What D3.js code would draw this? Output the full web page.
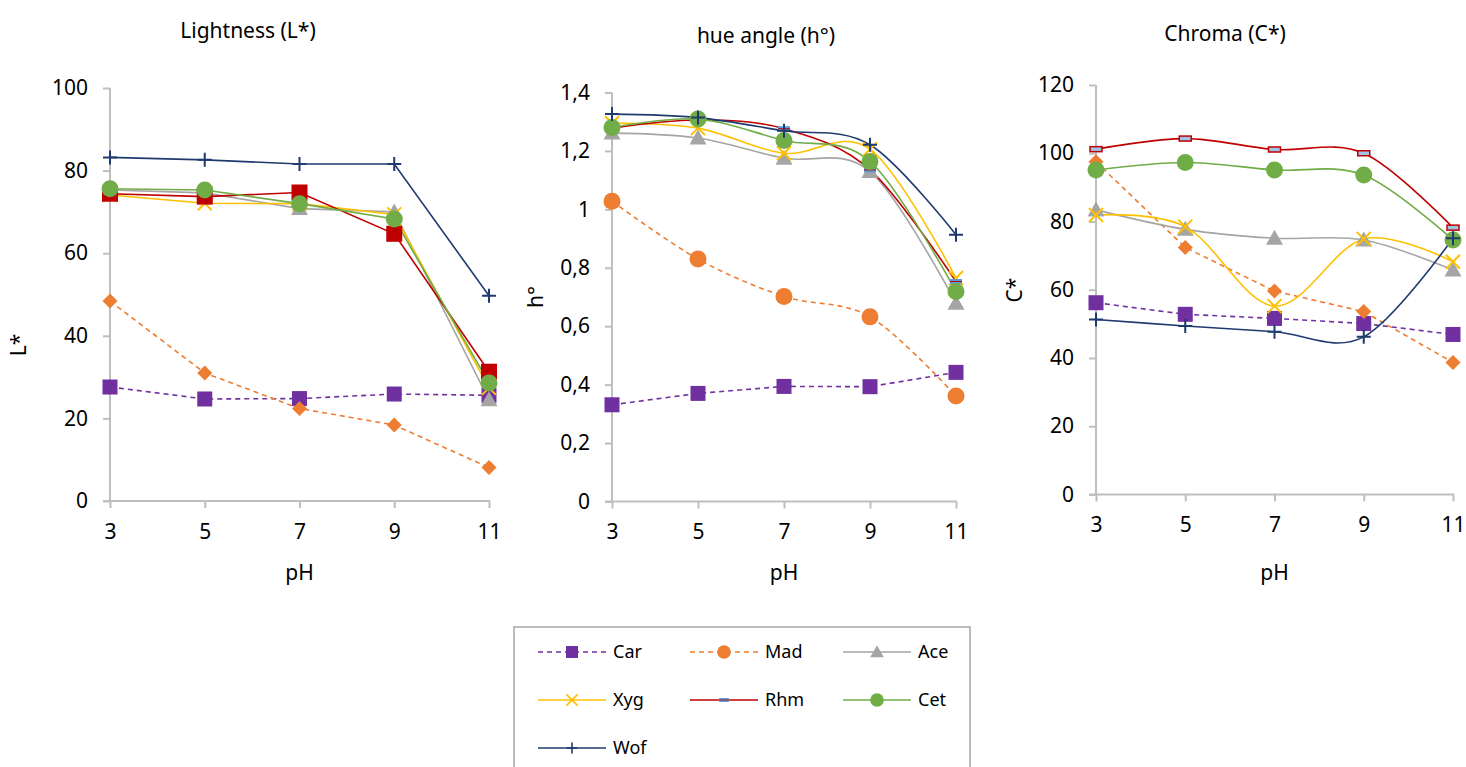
<!DOCTYPE html>
<meta charset="utf-8">
<title>Colour parameters vs pH</title>
<style>
  body { margin: 0; background: #fff; }
  text { font-family: "Noto Sans", "Open Sans", sans-serif; fill: #000; }
</style>
<body>
<script src="https://d3js.org/d3.v7.min.js"></script>
<script>

var width = 1466,
    height = 767;

// x values (pH) shared by all three charts
var phValues = [3, 5, 7, 9, 11];
var seriesNames = ["Car", "Mad", "Ace", "Xyg", "Rhm", "Cet", "Wof"];

// Lightness L*
var lightness = {
  Car: [27.6, 24.7, 24.8, 25.9, 25.6],
  Mad: [48.4, 31.0, 22.4, 18.4, 8.1],
  Ace: [75.3, 74.6, 70.8, 70.0, 24.5],
  Xyg: [74.1, 72.1, 72.0, 69.4, 27.4],
  Rhm: [74.4, 73.7, 74.7, 64.7, 31.3],
  Cet: [75.6, 75.3, 72.0, 68.3, 28.6],
  Wof: [83.2, 82.6, 81.6, 81.6, 49.7]
};

// hue angle h°
var hue = {
  Car: [0.331, 0.370, 0.394, 0.393, 0.442],
  Mad: [1.028, 0.830, 0.702, 0.632, 0.361],
  Ace: [1.261, 1.244, 1.175, 1.130, 0.679],
  Xyg: [1.295, 1.278, 1.192, 1.206, 0.765],
  Rhm: [1.278, 1.306, 1.276, 1.135, 0.753],
  Cet: [1.280, 1.309, 1.236, 1.164, 0.719],
  Wof: [1.326, 1.314, 1.269, 1.221, 0.913]
};

// Chroma C*
var chroma = {
  Car: [56.2, 52.8, 51.6, 50.1, 46.9],
  Mad: [97.5, 72.4, 59.6, 53.6, 38.7],
  Ace: [83.4, 77.7, 75.1, 74.6, 65.8],
  Xyg: [81.9, 78.5, 55.2, 74.9, 68.2],
  Rhm: [101.2, 104.3, 101.1, 100.0, 78.2],
  Cet: [95.1, 97.3, 95.1, 93.6, 74.6],
  Wof: [51.3, 49.4, 47.7, 46.2, 75.1]
};

var lightnessTicks = [0, 20, 40, 60, 80, 100];
var hueTicks = [0, 0.2, 0.4, 0.6, 0.8, 1, 1.2, 1.4];
var chromaTicks = [0, 20, 40, 60, 80, 100, 120];

var colors = {
  Car: "#7030A0", Mad: "#ED7D31", Ace: "#A5A5A5", Xyg: "#FFC000",
  Rhm: "#C00000", Cet: "#70AD47", Wof: "#1F3A6E"
};
var dashed = { Car: true, Mad: true };

var svg = d3.select("body").append("svg")
    .attr("width", width)
    .attr("height", height);

var fmtComma = function(d) { return String(d).replace(".", ","); };

var panels = [
  { title: "Lightness (L*)", titleX: 248, titleY: 38, ylabel: "L*", ylabelX: 26, ylabelY: 345,
    x0: 110, x1: 489, y0: 501, y1: 88, data: lightness, ticks: lightnessTicks, fmt: fmtComma,
    smooth: false,
    markers: { Car: "square", Mad: "diamond", Ace: "triangle", Xyg: "x", Rhm: "bigsquare", Cet: "circle", Wof: "plus" } },
  { title: "hue angle (h°)", titleX: 766, titleY: 43, ylabel: "h°", ylabelX: 543, ylabelY: 297,
    x0: 612, x1: 956, y0: 501.5, y1: 92.5, data: hue, ticks: hueTicks, fmt: fmtComma,
    smooth: true, straight: { Car: true },
    markers: { Car: "square", Mad: "circleO", Ace: "triangle", Xyg: "x", Rhm: "bar", Cet: "circle", Wof: "plus" } },
  { title: "Chroma (C*)", titleX: 1225, titleY: 41, ylabel: "C*", ylabelX: 1022, ylabelY: 290,
    x0: 1096, x1: 1453, y0: 494.5, y1: 85, data: chroma, ticks: chromaTicks, fmt: fmtComma,
    smooth: true, straight: { Car: true, Mad: true },
    markers: { Car: "square", Mad: "diamond", Ace: "triangle", Xyg: "x", Rhm: "redbar", Cet: "circle", Wof: "plus" } }
];

function drawMarker(g, type, cx, cy, color, s) {
  s = s || 1;
  var m = g.append("g").attr("transform", "translate(" + cx + "," + cy + ") scale(" + s + ")");
  if (type === "square") {
    m.append("rect").attr("x", -7.5).attr("y", -7.5).attr("width", 15).attr("height", 15).attr("fill", color);
  } else if (type === "bigsquare") {
    m.append("rect").attr("x", -8).attr("y", -8).attr("width", 16).attr("height", 16).attr("fill", color);
  } else if (type === "diamond") {
    m.append("path").attr("d", "M0,-7.5L7.5,0L0,7.5L-7.5,0Z").attr("fill", color);
  } else if (type === "triangle") {
    m.append("path").attr("d", "M0,-8.5L8.5,6.5L-8.5,6.5Z").attr("fill", color);
  } else if (type === "circle" || type === "circleO") {
    m.append("circle").attr("r", 8.5).attr("fill", color);
  } else if (type === "x") {
    m.append("path").attr("d", "M-7,-7L7,7M-7,7L7,-7").attr("stroke", color).attr("stroke-width", 2).attr("fill", "none");
  } else if (type === "plus") {
    m.append("path").attr("d", "M-7,0L7,0M0,-7L0,7").attr("stroke", color).attr("stroke-width", 2).attr("fill", "none");
  } else if (type === "bar") {
    m.append("rect").attr("x", -6).attr("y", -2.5).attr("width", 12).attr("height", 5).attr("fill", "#5B9BD5");
    m.append("line").attr("x1", -6).attr("x2", 6).attr("stroke", "#C00000").attr("stroke-width", 1);
  } else if (type === "redbar") {
    m.append("rect").attr("x", -6).attr("y", -2.5).attr("width", 12).attr("height", 5)
      .attr("fill", "#9DC3E6").attr("stroke", "#C00000").attr("stroke-width", 1.5);
  }
}

panels.forEach(function(p) {
  var x = d3.scaleLinear().domain([3, 11]).range([p.x0, p.x1]);
  var y = d3.scaleLinear().domain([0, d3.max(p.ticks)]).range([p.y0, p.y1]);
  var g = svg.append("g");

  // y axis
  var yAxis = g.append("g")
      .attr("transform", "translate(" + p.x0 + ",0)")
      .call(d3.axisLeft(y).tickValues(p.ticks).tickFormat(p.fmt).tickSize(7).tickPadding(15));
  // x axis
  var xAxis = g.append("g")
      .attr("transform", "translate(0," + p.y0 + ")")
      .call(d3.axisBottom(x).tickValues(phValues).tickSize(7).tickPadding(16));
  [yAxis, xAxis].forEach(function(a) {
    a.select(".domain").attr("stroke", "#BFBFBF").attr("stroke-width", 2);
    a.selectAll(".tick line").attr("stroke", "#BFBFBF").attr("stroke-width", 2);
    a.selectAll(".tick text").style("font-size", "21px").style("font-family", "'Noto Sans', sans-serif").attr("fill", "#000");
  });
  yAxis.select(".domain").attr("d", "M0," + p.y0 + "V" + p.y1);
  xAxis.select(".domain").attr("d", "M" + (p.x0 - 7) + ",0H" + (p.x1 + 1));

  // titles
  g.append("text").attr("x", p.titleX).attr("y", p.titleY).attr("text-anchor", "middle")
      .style("font-size", "21px").text(p.title);
  g.append("text").attr("x", (p.x0 + p.x1) / 2).attr("y", 580).attr("text-anchor", "middle")
      .style("font-size", "21px").text("pH");
  g.append("text").attr("transform", "translate(" + p.ylabelX + "," + p.ylabelY + ") rotate(-90)")
      .attr("text-anchor", "middle").style("font-size", "21px").text(p.ylabel);

  // lines
  seriesNames.forEach(function(name) {
    var smooth = p.smooth && !(p.straight && p.straight[name]);
    var line = d3.line()
        .x(function(d, i) { return x(phValues[i]); })
        .y(function(d) { return y(d); })
        .curve(smooth ? d3.curveCatmullRom.alpha(0) : d3.curveLinear);
    g.append("path")
        .attr("d", line(p.data[name]))
        .attr("fill", "none")
        .attr("stroke", colors[name])
        .attr("stroke-width", 1.6)
        .attr("stroke-dasharray", dashed[name] ? "5,4" : null);
  });

  // markers
  seriesNames.forEach(function(name) {
    p.data[name].forEach(function(v, i) {
      drawMarker(g, p.markers[name], x(phValues[i]), y(v), colors[name]);
    });
  });
});

// legend
var legendMarkers = { Car: "square", Mad: "circleO", Ace: "triangle", Xyg: "x", Rhm: "bar", Cet: "circle", Wof: "plus" };
var legend = svg.append("g");
legend.append("rect").attr("x", 514).attr("y", 627).attr("width", 456).attr("height", 160)
    .attr("fill", "#fff").attr("stroke", "#A6A6A6").attr("stroke-width", 1.5);

var colX = [538, 690, 843], rowY = [652, 700, 748];
seriesNames.forEach(function(name, i) {
  var lx = colX[i % 3], ly = rowY[Math.floor(i / 3)];
  legend.append("line").attr("x1", lx).attr("x2", lx + 68).attr("y1", ly).attr("y2", ly)
      .attr("stroke", colors[name]).attr("stroke-width", 1.6)
      .attr("stroke-dasharray", dashed[name] ? "5,4" : null);
  drawMarker(legend, legendMarkers[name], lx + 34, ly, colors[name], 0.8);
  legend.append("text").attr("x", lx + 75).attr("y", ly + 6).style("font-size", "18px").text(name);
});

</script>
